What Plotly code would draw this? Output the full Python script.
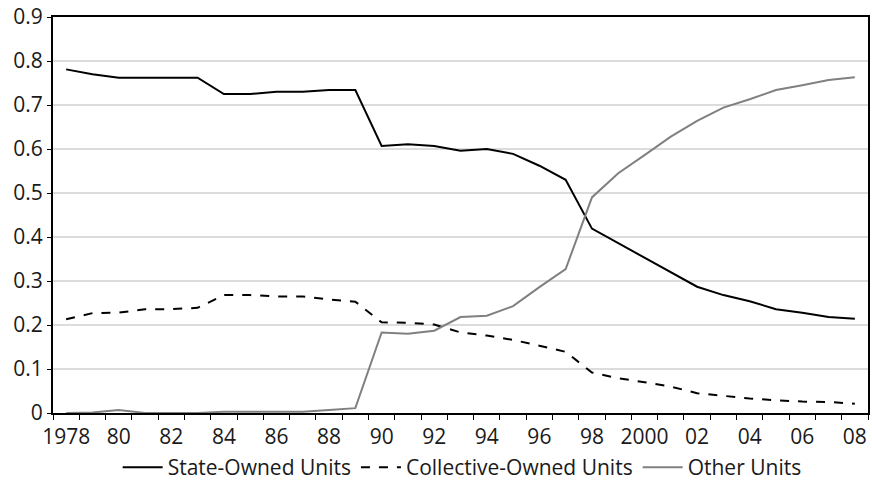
import plotly.graph_objects as go

years = list(range(1978, 2009))

state_owned = [0.781, 0.770, 0.762, 0.762, 0.762, 0.762, 0.725, 0.725, 0.730, 0.730,
               0.734, 0.734, 0.607, 0.611, 0.607, 0.596, 0.600, 0.589, 0.562, 0.530,
               0.419, 0.386, 0.354, 0.321, 0.287, 0.268, 0.254, 0.236, 0.228, 0.218, 0.214]

collective_owned = [0.213, 0.227, 0.228, 0.236, 0.236, 0.239, 0.268, 0.268, 0.265, 0.265,
                    0.258, 0.253, 0.206, 0.205, 0.201, 0.183, 0.176, 0.166, 0.153, 0.139,
                    0.092, 0.079, 0.070, 0.060, 0.045, 0.039, 0.033, 0.029, 0.026, 0.025, 0.021]

other_units = [0.0, 0.001, 0.007, 0.0, 0.0, 0.0, 0.003, 0.003, 0.003, 0.003,
               0.007, 0.011, 0.183, 0.180, 0.187, 0.218, 0.221, 0.243, 0.286, 0.327,
               0.490, 0.545, 0.586, 0.628, 0.664, 0.694, 0.713, 0.734, 0.745, 0.757, 0.763]

tick_years = list(range(1978, 2009, 2))
tick_text = ["1978"] + [str(y)[2:] if y != 2000 else "2000" for y in tick_years[1:]]

font = dict(family="Open Sans, Noto Sans, sans-serif", size=21, color="#1a1a1a")

fig = go.Figure()
fig.add_trace(go.Scatter(x=years, y=state_owned, mode="lines", name="State-Owned Units",
                         line=dict(color="#000000", width=2)))
fig.add_trace(go.Scatter(x=years, y=collective_owned, mode="lines", name="Collective-Owned Units",
                         line=dict(color="#000000", width=2, dash="dash")))
fig.add_trace(go.Scatter(x=years, y=other_units, mode="lines", name="Other Units",
                         line=dict(color="#808080", width=2)))

fig.update_layout(
    width=872, height=488,
    margin=dict(l=53, r=4, t=17, b=75),
    paper_bgcolor="white", plot_bgcolor="white",
    font=font,
    showlegend=True,
    legend=dict(orientation="h", x=0.53, xanchor="center", xref="container",
                y=0.0, yanchor="bottom", yref="container",
                font=font, traceorder="normal", itemwidth=40),
    xaxis=dict(range=[1977.5, 2008.5], tickvals=tick_years, ticktext=tick_text,
               ticks="", showgrid=False, showline=True, linecolor="#000000", linewidth=2,
               mirror=True, zeroline=False, automargin=False, ticklabelstandoff=4,
               tickfont=font,
               minor=dict(tick0=1977.5, dtick=1, ticks="outside", ticklen=5,
                          tickcolor="#000000", showgrid=False)),
    yaxis=dict(range=[0, 0.9], dtick=0.1, tickformat="~g", ticks="outside", ticklen=4,
               tickcolor="#000000", showgrid=True, gridcolor="#dcdcdc", gridwidth=1.5,
               showline=True, linecolor="#000000", linewidth=2, mirror=True, zeroline=False,
               automargin=False, tickfont=font),
)

# drop the default page margin so the figure sits at the window corner
fig.write_html("out.html", config={"displayModeBar": False},
               post_script="document.body.style.margin='0';")
